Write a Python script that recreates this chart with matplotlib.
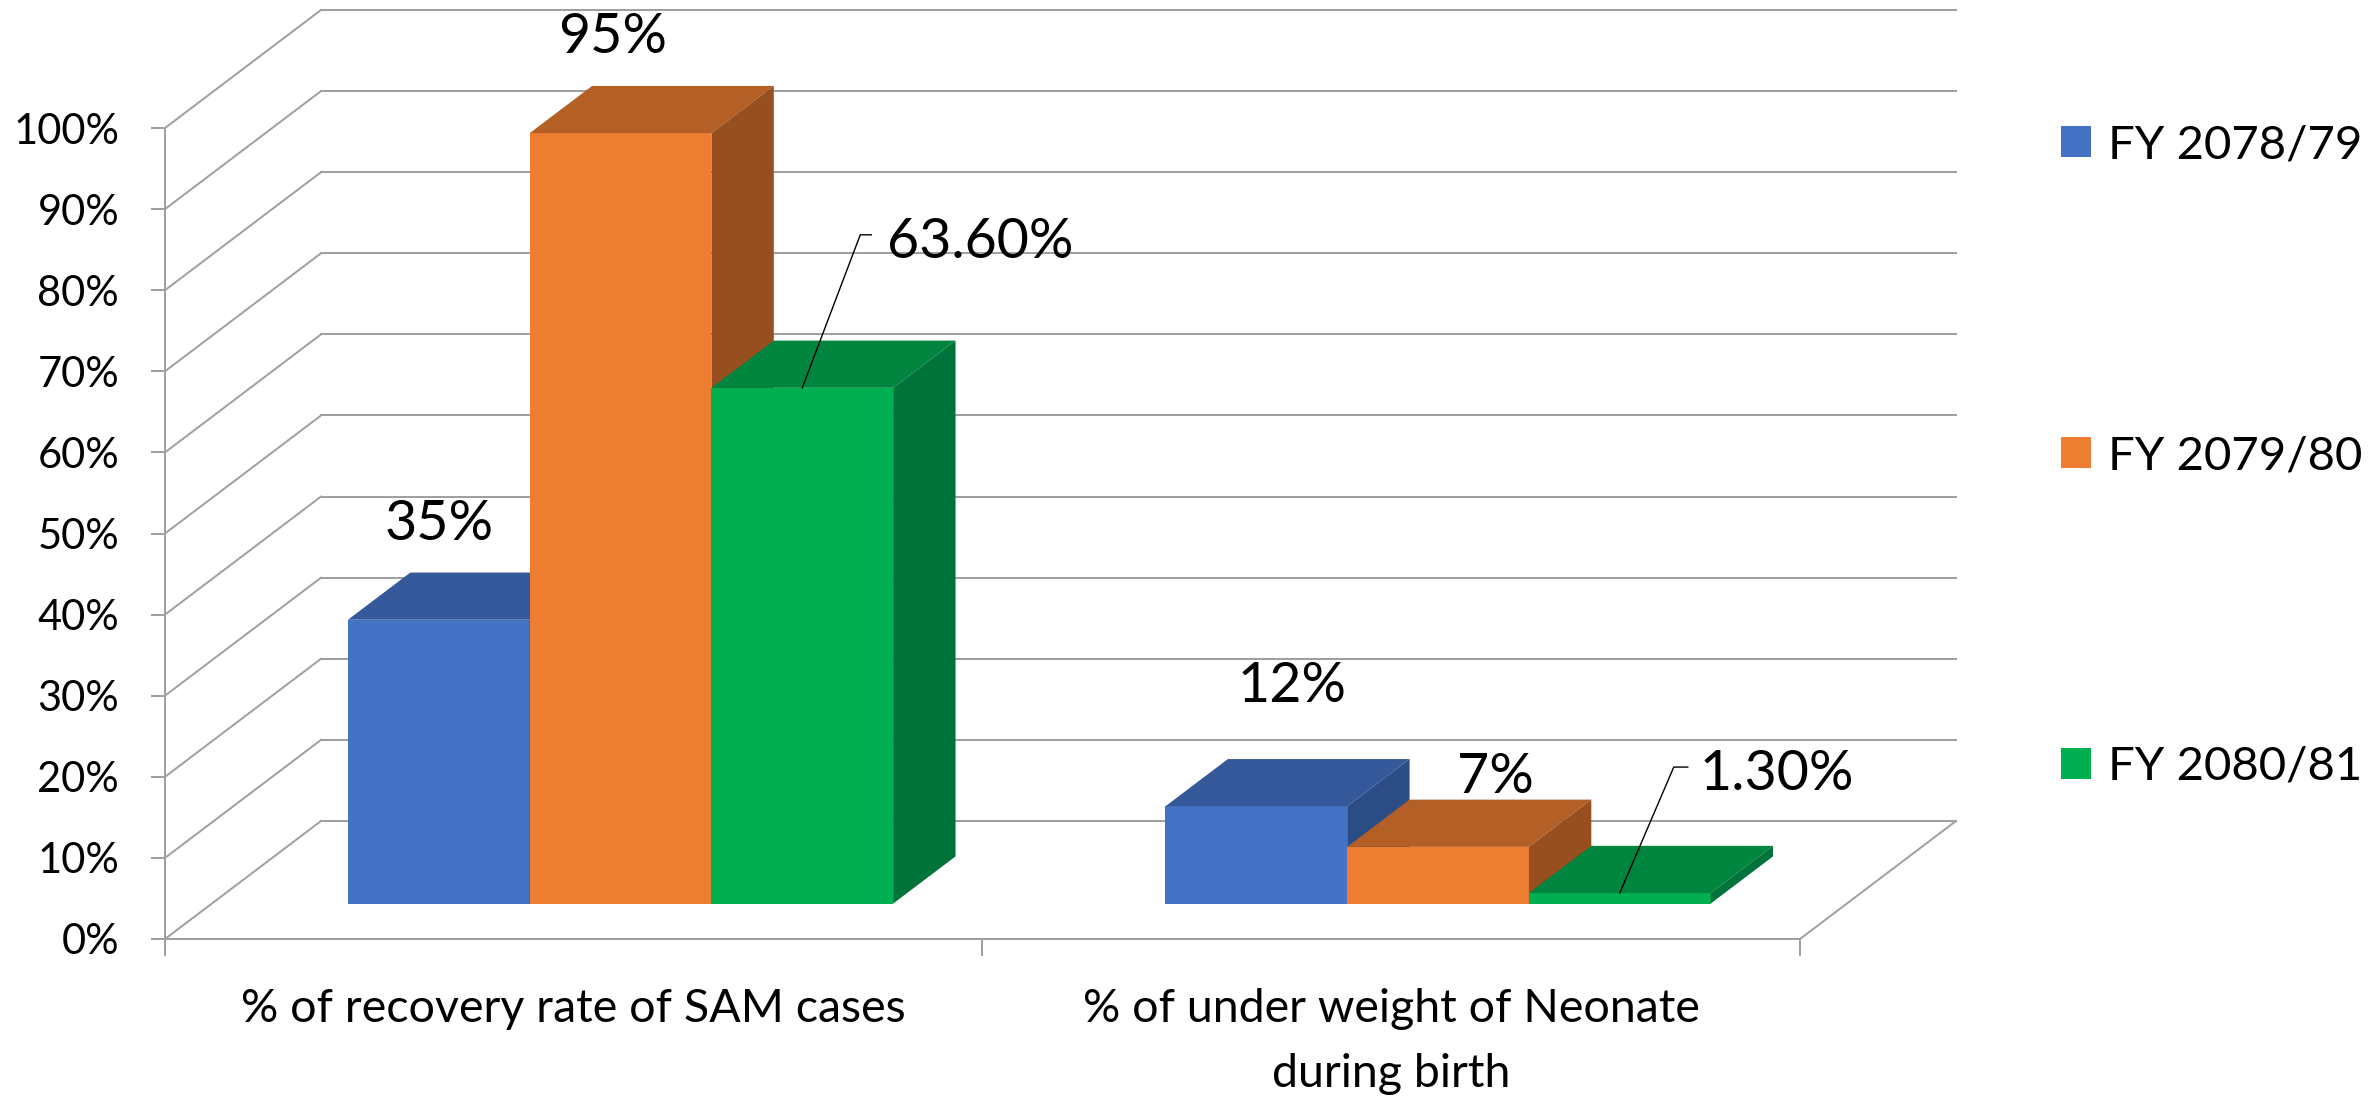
import matplotlib.pyplot as plt

categories = ['% of recovery rate of SAM cases', '% of under weight of Neonate\nduring birth']
series_names = ['FY 2078/79', 'FY 2079/80', 'FY 2080/81']
fy_2078_79 = [35, 12]
fy_2079_80 = [95, 7]
fy_2080_81 = [63.6, 1.3]
labels_2078_79 = ['35%', '12%']
labels_2079_80 = ['95%', '7%']
labels_2080_81 = ['63.60%', '1.30%']
y_ticks = [0, 10, 20, 30, 40, 50, 60, 70, 80, 90, 100]
y_tick_labels = [f'{t}%' for t in y_ticks]

values = [fy_2078_79, fy_2079_80, fy_2080_81]
value_labels = [labels_2078_79, labels_2079_80, labels_2080_81]

front_colors = ['#4472C4', '#ED7D31', '#00B050']
top_colors = ['#34589A', '#B35F25', '#00853E']
side_colors = ['#2C4C86', '#974F1F', '#00733A']
grid_color = '#A0A0A0'

# label placement in pixels relative to front-top centre of each bar (x right, y up)
# (dx, dy, leader) ; leader = list of pixel offsets for the callout line or None
label_place = [
    [(0, 80, None), (36, 104, None)],
    [(-8, 80, None), (57, 54, None)],
    [(85, 130, [(0, 0), (58, 153), (69, 153)]), (80, 103, [(0, 0), (54, 126), (68, 126)])],
]

plt.rcParams['font.family'] = ['Lato', 'DejaVu Sans']

W, H = 2374, 1099
fig = plt.figure(figsize=(W / 100, H / 100), dpi=100)
ax = fig.add_axes([165 / W, (H - 939) / H, 1635 / W, 811 / H])
ax.set_xlim(0, 2)
ax.set_ylim(0, 100)

# depth of the 3d box (data units) and where the bars sit inside it
DX, DY = 0.1908, 14.55
F0, F1 = 0.3, 0.7
bw = 0.2223
ddx, ddy = (F1 - F0) * DX, (F1 - F0) * DY

# walls and floor
for t in y_ticks:
    ax.plot([0, DX], [t, t + DY], color=grid_color, lw=1.44, zorder=0.5, clip_on=False)
    ax.plot([DX, 2 + DX], [t + DY, t + DY], color=grid_color, lw=1.44, zorder=0.5, clip_on=False)
ax.plot([2, 2 + DX], [0, DY], color=grid_color, lw=1.44, zorder=0.5, clip_on=False)

bars = []
for j, vals in enumerate(values):
    lefts = [i + 0.5 - 1.5 * bw + j * bw + F0 * DX for i in range(len(categories))]
    b = ax.bar(lefts, vals, width=bw, bottom=F0 * DY, align='edge',
               color=front_colors[j], lw=0, zorder=2, clip_on=False)
    bars.append(b)
    for x0, v in zip(lefts, vals):
        y1 = v + F0 * DY
        ax.fill([x0, x0 + bw, x0 + bw + ddx, x0 + ddx], [y1, y1, y1 + ddy, y1 + ddy],
                color=top_colors[j], lw=0, zorder=2, clip_on=False)
        ax.fill([x0 + bw, x0 + bw + ddx, x0 + bw + ddx, x0 + bw],
                [F0 * DY, F0 * DY + ddy, y1 + ddy, y1],
                color=side_colors[j], lw=0, zorder=2, clip_on=False)

# data labels
for j, vals in enumerate(values):
    for i, v in enumerate(vals):
        x0 = i + 0.5 - 1.5 * bw + j * bw + F0 * DX
        anchor = (x0 + bw / 2, v + F0 * DY)
        dx, dy, leader = label_place[j][i]
        ha = 'left' if leader else 'center'
        ax.annotate(value_labels[j][i], xy=anchor, xytext=(dx, dy), textcoords='offset pixels',
                    ha=ha, va='baseline', fontsize=40, zorder=5, annotation_clip=False)
        if leader:
            p = ax.transData.transform(anchor)
            pts = ax.transData.inverted().transform([(p[0] + ox, p[1] + oy) for ox, oy in leader])
            ax.plot(pts[:, 0], pts[:, 1], color='black', lw=1, zorder=5, clip_on=False)

ax.set_yticks(y_ticks, y_tick_labels, fontsize=30)
ax.tick_params(axis='y', length=10, width=1.44, color=grid_color, pad=23)
ax.set_xticks([0, 1, 2], ['', '', ''])
ax.set_xticks([0.5, 1.5], categories, minor=True, fontsize=33.5,
              multialignment='center', linespacing=1.7)
ax.tick_params(axis='x', which='major', length=12.2, width=1.44, color=grid_color)
ax.tick_params(axis='x', which='minor', length=0, pad=35)

for s in ['top', 'right']:
    ax.spines[s].set_visible(False)
for s in ['left', 'bottom']:
    ax.spines[s].set_color(grid_color)
    ax.spines[s].set_linewidth(1.44)

fig.legend([b.patches[0] for b in bars], series_names, loc='center left',
           bbox_to_anchor=(2061 / W, 1 - 456 / H), frameon=False, fontsize=34,
           handlelength=0.635, handleheight=0.635, handletextpad=0.36,
           labelspacing=5.69, borderpad=0, borderaxespad=0)

fig.savefig('out.png', dpi=100)
